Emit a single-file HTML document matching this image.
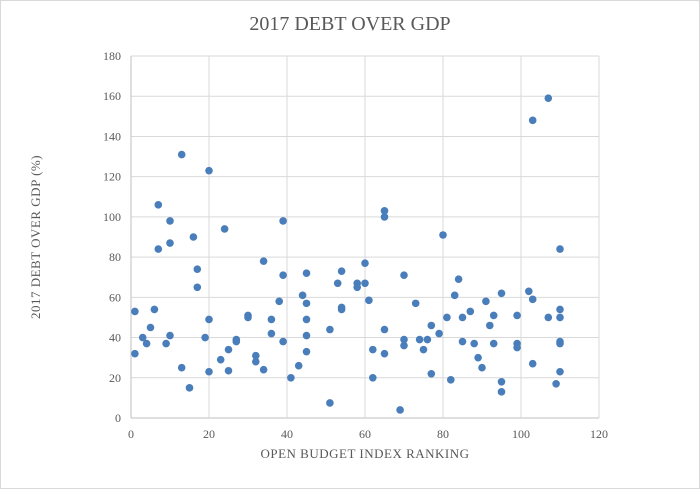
<!DOCTYPE html>
<html><head><meta charset="utf-8"><style>
body{margin:0;background:#fff;}
svg{display:block;font-family:"Liberation Serif",serif;}
</style></head><body>
<svg id="chart" width="700" height="489">
<rect x="0.5" y="0.5" width="699" height="488" fill="#fff" stroke="#d9d9d9"/>
<text x="350" y="30" text-anchor="middle" font-size="20" fill="#595959">2017 DEBT OVER GDP</text>
<g id="grid"></g><g id="ticks"></g><g id="pts"></g>
<text x="365" y="458" text-anchor="middle" font-size="13" fill="#595959" letter-spacing="0.5">OPEN BUDGET  INDEX RANKING</text>
<text transform="translate(40,237) rotate(-90)" text-anchor="middle" font-size="13" fill="#595959" letter-spacing="0.5">2017 DEBT OVER  GDP (%)</text>
</svg>
<script>
const xTicks=[0,20,40,60,80,100,120];
const yTicks=[0,20,40,60,80,100,120,140,160,180];
const xs=[1,1,3,4,5,6,7,7,9,10,10,10,13,13,15,16,17,17,19,20,20,20,23,24,25,25,27,27,30,30,32,32,34,34,36,36,38,39,39,39,41,43,44,45,45,45,45,45,51,51,53,54,54,54,58,58,60,60,61,62,62,65,65,65,65,69,70,70,70,73,74,75,76,77,77,79,80,81,82,83,84,85,85,87,88,89,90,91,92,93,93,95,95,95,99,99,99,102,103,103,103,107,107,109,110,110,110,110,110,110];
const ys=[53,32,40,37,45,54,106,84,37,98,87,41,131,25,15,90,74,65,40,123,49,23,29,94,23.5,34,38,39,51,50,31,28,78,24,49,42,58,98,71,38,20,26,61,72,57,49,41,33,44,7.5,67,73,55,54,67,65,77,67,58.5,34,20,103,100,44,32,4,71,39,36,57,39,34,39,46,22,42,91,50,19,61,69,50,38,53,37,30,25,58,46,51,37,62,18,13,51,37,35,63,59,27,148,159,50,17,84,54,50,38,37,23];
const X=v=>131+v*(599-131)/120, Y=v=>418-v*(418-56)/180;
const NS="http://www.w3.org/2000/svg";
const g=document.getElementById('grid'),t=document.getElementById('ticks'),p=document.getElementById('pts');
function mk(tag,a,par){const e=document.createElementNS(NS,tag);for(const k in a)e.setAttribute(k,a[k]);par.appendChild(e);return e;}
yTicks.forEach(v=>{
const l=mk('line',{x1:131,x2:599,y1:Y(v),y2:Y(v),stroke:v===0?'#bfbfbf':'#d9d9d9','stroke-width':1},g);


const tx=mk('text',{x:121,y:Y(v)+4,'text-anchor':'end','font-size':12,fill:'#595959'},t);tx.textContent=v;


});
xTicks.forEach(v=>{
const l=mk('line',{x1:X(v),x2:X(v),y1:56,y2:418,stroke:v===0?'#bfbfbf':'#d9d9d9','stroke-width':1},g);


const tx=mk('text',{x:X(v),y:438,'text-anchor':'middle','font-size':12,fill:'#595959'},t);tx.textContent=v;


});
xs.forEach((v,i)=>{
const c=mk('circle',{cx:X(v),cy:Y(ys[i]),r:3.8,fill:'#4a7ebb'},p);


});
</script>
</body></html>
